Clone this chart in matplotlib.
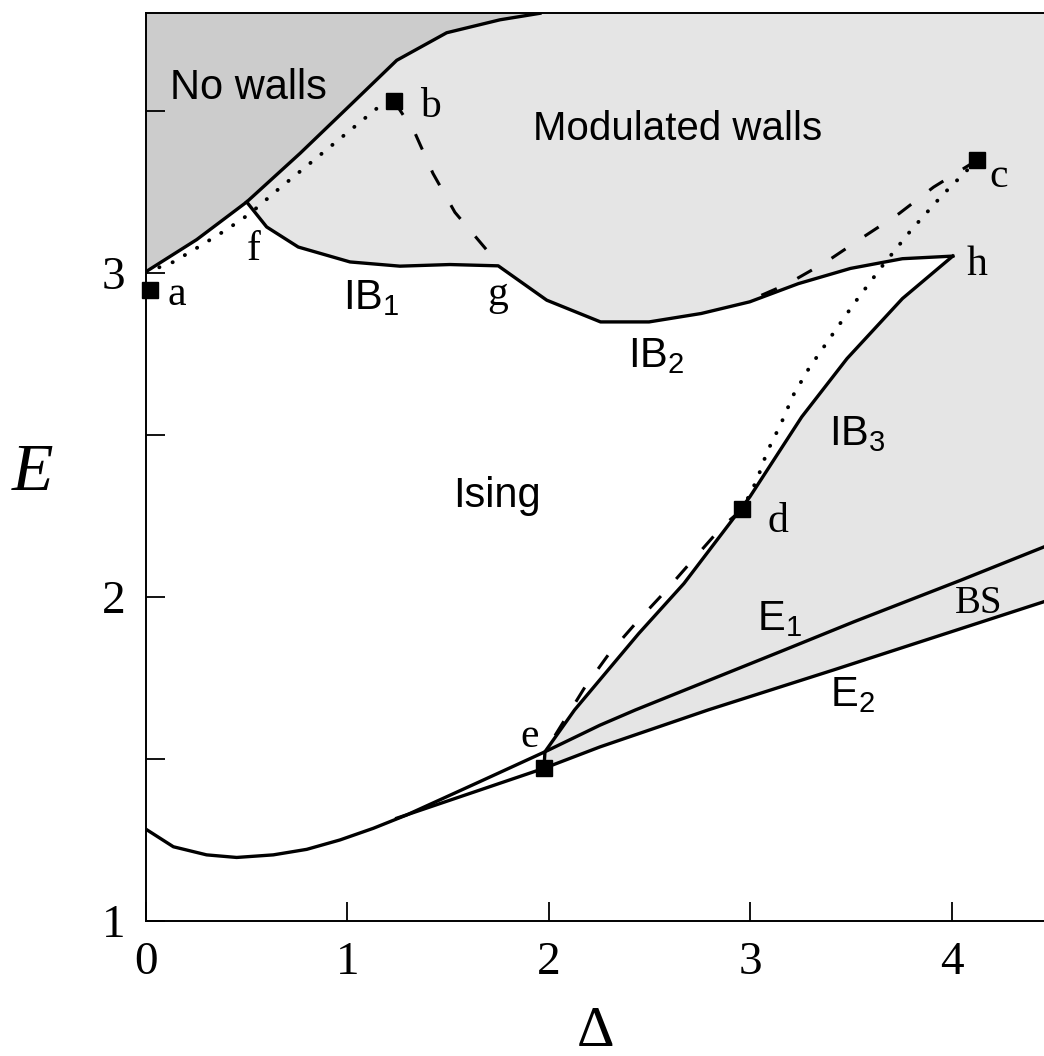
import matplotlib
matplotlib.use('Agg')
import matplotlib.pyplot as plt
from matplotlib.patches import Polygon
import numpy as np

# boundary between "No walls" and "Modulated walls" (from a up to the top edge)
nowall_x = [0.0, 0.252, 0.500, 0.765, 1.013, 1.245, 1.493, 1.758, 1.956]
nowall_y = [3.003, 3.102, 3.218, 3.368, 3.516, 3.655, 3.740, 3.780, 3.800]

# IB1 + IB2 lines (f -> g -> h)
ib12_x = [0.500, 0.599, 0.756, 1.013, 1.261, 1.509, 1.749, 1.990, 2.257,
          2.498, 2.757, 2.998, 3.239, 3.498, 3.756, 4.006]
ib12_y = [3.218, 3.141, 3.079, 3.033, 3.020, 3.025, 3.021, 2.915, 2.848,
          2.848, 2.874, 2.910, 2.966, 3.013, 3.043, 3.051]

# IB3 line (h -> e)
ib3_x = [4.006, 3.756, 3.481, 3.256, 2.998, 2.671, 2.447, 2.128, 1.981, 1.976]
ib3_y = [3.051, 2.920, 2.735, 2.555, 2.308, 2.041, 1.887, 1.651, 1.522, 1.471]

# lower Ising boundary continuing as E1
e1_x = [0.0, 0.136, 0.301, 0.450, 0.632, 0.798, 0.963, 1.129, 1.294,
        1.658, 1.981, 2.254, 2.430, 3.170, 3.515, 4.049, 4.459]
e1_y = [1.283, 1.229, 1.204, 1.196, 1.204, 1.221, 1.250, 1.286, 1.327,
        1.430, 1.522, 1.604, 1.651, 1.836, 1.923, 2.052, 2.154]

# E2 line
e2_x = [1.245, 1.658, 1.976, 2.254, 2.791, 3.412, 4.459]
e2_y = [1.317, 1.404, 1.471, 1.537, 1.651, 1.774, 1.985]

# dotted / dashed lines
dot_ab_x = [0.0, 0.136, 0.268, 0.401, 0.516, 0.649, 1.145, 1.231]
dot_ab_y = [3.001, 3.033, 3.082, 3.133, 3.182, 3.253, 3.506, 3.530]
dash_bg_x = [1.231, 1.336, 1.425, 1.534, 1.693, 1.749]
dash_bg_y = [3.530, 3.430, 3.306, 3.186, 3.069, 3.021]
dash_c_x = [4.127, 3.911, 3.739, 3.550, 3.377, 3.188, 3.000]
dash_c_y = [3.347, 3.264, 3.182, 3.105, 3.033, 2.966, 2.915]
dot_cd_x = [4.127, 3.954, 3.799, 3.653, 3.515, 3.377, 3.291, 3.214,
            3.153, 3.084, 3.033, 2.961]
dot_cd_y = [3.347, 3.239, 3.131, 3.018, 2.904, 2.781, 2.704, 2.622,
            2.534, 2.447, 2.360, 2.270]
dash_de_x = [2.961, 2.860, 2.714, 2.576, 2.438, 2.300, 2.180, 1.981]
dash_de_y = [2.270, 2.216, 2.113, 2.015, 1.923, 1.825, 1.722, 1.522]

# special points a, b, c, d, e
pts_x = [0.022, 1.231, 4.127, 2.961, 1.976]
pts_y = [2.946, 3.530, 3.347, 2.270, 1.471]

# point letters
letters = ['a', 'b', 'c', 'd', 'e', 'f', 'g', 'h']
letter_x = [0.109, 1.360, 4.186, 3.084, 1.861, 0.501, 1.693, 4.075]
letter_y = [2.899, 3.479, 3.264, 2.200, 1.537, 3.038, 2.899, 2.992]

# region labels
regions = ['No walls', 'Modulated walls', 'Ising', 'IB$_1$', 'IB$_2$',
           'IB$_3$', 'E$_1$', 'E$_2$']
region_x = [0.119, 1.922, 1.524, 0.977, 2.395, 3.393, 3.033, 3.396]
region_y = [3.535, 3.408, 2.277, 2.889, 2.709, 2.468, 1.897, 1.663]

plt.rcParams['font.family'] = ['Liberation Serif', 'DejaVu Serif']
plt.rcParams['mathtext.default'] = 'regular'

XMAX, YMAX = 4.459, 3.8

fig = plt.figure(figsize=(10.44, 10.56), dpi=100)
ax = fig.add_axes([146 / 1044, 135 / 1056, 898 / 1044, 907.7 / 1056])
ax.set_xlim(0, XMAX)
ax.set_ylim(1, YMAX)

# shaded regions
dark = list(zip(nowall_x, nowall_y)) + [(0, YMAX)]
ax.add_patch(Polygon(dark, closed=True, facecolor='#cccccc', edgecolor='none', zorder=0))

n = len(e2_x)
i_e = e2_x.index(1.976)
light = (list(zip(nowall_x[2:], nowall_y[2:])) + [(XMAX, YMAX)]
         + list(zip(e2_x[::-1], e2_y[::-1]))[:n - i_e - 1]
         + list(zip(ib3_x[::-1], ib3_y[::-1]))
         + list(zip(ib12_x[::-1], ib12_y[::-1])))
ax.add_patch(Polygon(light, closed=True, facecolor='#e5e5e5', edgecolor='none', zorder=0))

lw = 2.4
for xs, ys in [(nowall_x, nowall_y), (ib12_x, ib12_y), (ib3_x, ib3_y),
               (e1_x, e1_y), (e2_x, e2_y)]:
    ax.plot(xs, ys, color='black', lw=lw, solid_joinstyle='round', zorder=3)

for xs, ys in [(dot_ab_x, dot_ab_y), (dot_cd_x, dot_cd_y)]:
    ax.plot(xs, ys, color='black', lw=2.8, linestyle=(0, (0.05, 3.6)),
            dash_capstyle='round', zorder=3)

for xs, ys in [(dash_bg_x, dash_bg_y), (dash_c_x, dash_c_y), (dash_de_x, dash_de_y)]:
    ax.plot(xs, ys, color='black', lw=2.2, linestyle=(0, (5.5, 7.5)), zorder=3)

ax.plot(pts_x, pts_y, linestyle='none', marker='s', markersize=12,
        color='black', zorder=4, clip_on=False)

for t, x, y in zip(letters, letter_x, letter_y):
    ax.text(x, y, t, fontsize=30, ha='left', va='baseline')

for t, x, y in zip(regions, region_x, region_y):
    size = 29 if t == 'Modulated walls' else 30
    ax.text(x, y, t, fontsize=size, ha='left', va='baseline',
            family=['Liberation Sans', 'DejaVu Sans'])
ax.text(4.015, 1.950, 'BS', fontsize=28, ha='left', va='baseline')

# axes styling
ax.spines['right'].set_visible(False)
for s in ['left', 'bottom', 'top']:
    ax.spines[s].set_linewidth(1.4)
ax.set_xticks([0, 1, 2, 3, 4])
ax.set_yticks([1, 2, 3])
ax.set_yticks([1.5, 2.5, 3.5], minor=True)
ax.tick_params(which='both', direction='in', length=13.5, width=1.3,
               labelsize=34, pad=15, top=False, right=False)
ax.tick_params(which='minor', labelleft=False)

fig.text(33 / 1044, 1 - 490 / 1056, 'E', fontsize=49, style='italic',
         ha='center', va='baseline')
fig.text(596 / 1044, 1 - 1046 / 1056, 'Δ', fontsize=42,
         ha='center', va='baseline')

fig.savefig('out.png', dpi=100)
